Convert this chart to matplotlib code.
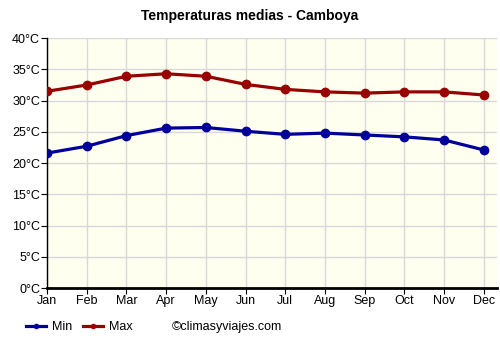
import matplotlib
matplotlib.use("Agg")
import matplotlib.pyplot as plt
from matplotlib.lines import Line2D

# ---------- Data ----------
months = ["Jan", "Feb", "Mar", "Apr", "May", "Jun",
          "Jul", "Aug", "Sep", "Oct", "Nov", "Dec"]
temp_min = [21.6, 22.7, 24.4, 25.6, 25.7, 25.1, 24.6, 24.8, 24.5, 24.2, 23.7, 22.1]
temp_max = [31.5, 32.5, 33.9, 34.3, 33.9, 32.6, 31.8, 31.4, 31.2, 31.4, 31.4, 30.9]
y_ticks = [0, 5, 10, 15, 20, 25, 30, 35, 40]

plt.rcParams["font.family"] = ["Liberation Sans", "DejaVu Sans"]

# ---------- Plot ----------
fig = plt.figure(figsize=(5, 3.5), dpi=100)
ax = fig.add_axes([0.094, 0.177, 0.9, 0.714])
ax.set_facecolor("#fffff0")

x = list(range(len(months)))
ax.plot(x, temp_min, color="#000099", lw=2.3, marker="o", ms=6, zorder=3)
ax.plot(x, temp_max, color="#990000", lw=2.3, marker="o", ms=6, zorder=3)

ax.set_xlim(0, 11.33)
ax.set_ylim(0, 40)
ax.set_xticks(x)
ax.set_xticklabels(months)
ax.set_yticks(y_ticks)
ax.set_yticklabels([f"{t}°C" for t in y_ticks])
ax.tick_params(labelsize=9, length=4, pad=1, colors="black")
ax.grid(True, color="#d8d8d8", lw=1)
ax.set_axisbelow(True)

for side in ["top", "right"]:
    ax.spines[side].set_visible(False)
ax.spines["left"].set_linewidth(1)
ax.spines["bottom"].set_linewidth(2)

fig.text(0.5, 0.955, "Temperaturas medias - Camboya", ha="center", va="center",
         fontsize=10, fontweight="bold")

# ---------- Legend ----------
handles = [Line2D([], [], color="#000099", lw=2.3, marker="o", ms=3),
           Line2D([], [], color="#990000", lw=2.3, marker="o", ms=3)]
fig.legend(handles, ["Min", "Max"], loc="center left", bbox_to_anchor=(0.046, 0.066),
           ncol=2, frameon=False, fontsize=9, handlelength=1.6, handletextpad=0.55,
           columnspacing=0.8, borderaxespad=0, borderpad=0.2)
fig.text(0.343, 0.066, "©climasyviajes.com", ha="left", va="center", fontsize=9)

fig.savefig("out.png", dpi=100)
